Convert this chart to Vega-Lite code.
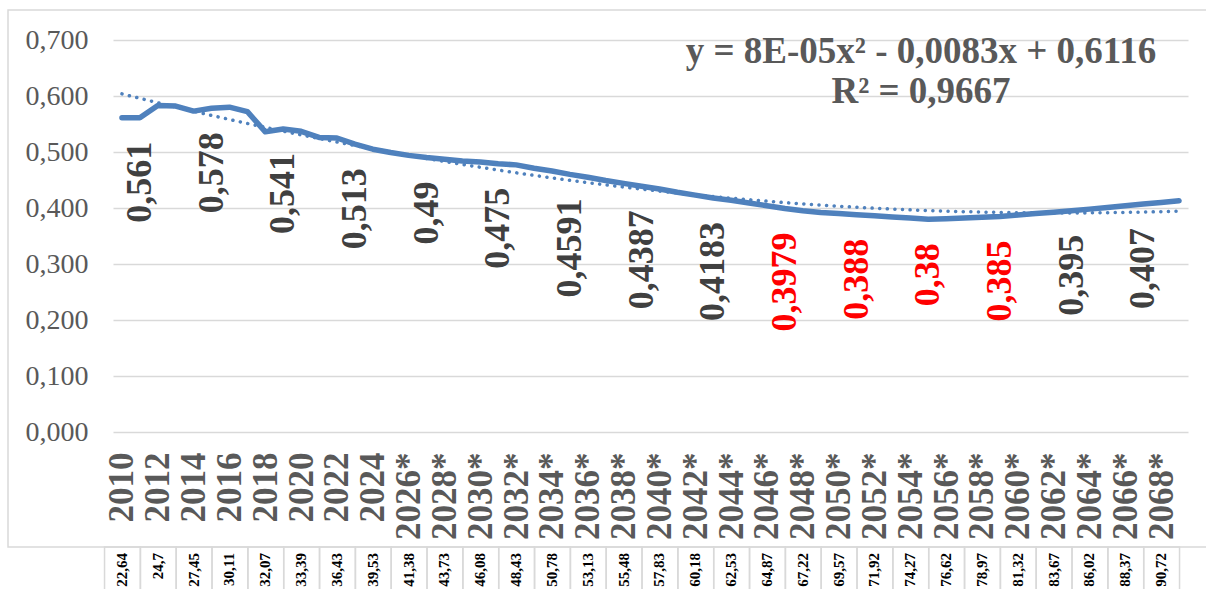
{
  "$schema": "https://vega.github.io/schema/vega-lite/v6.json",
  "width": 1075,
  "height": 392,
  "autosize": {"type": "none"},
  "padding": {"left": 113, "top": 40, "right": 18, "bottom": 157},
  "background": "white",
  "config": {"view": {"stroke": null}, "font": "Liberation Serif"},
  "datasets": {
    "main": [
      {"year": 2010, "v": 0.561},
      {"year": 2011, "v": 0.561, "lbl": "0,561"},
      {"year": 2012, "v": 0.583},
      {"year": 2013, "v": 0.582},
      {"year": 2014, "v": 0.573},
      {"year": 2015, "v": 0.578, "lbl": "0,578"},
      {"year": 2016, "v": 0.580},
      {"year": 2017, "v": 0.572},
      {"year": 2018, "v": 0.536},
      {"year": 2019, "v": 0.541, "lbl": "0,541"},
      {"year": 2020, "v": 0.537},
      {"year": 2021, "v": 0.526},
      {"year": 2022, "v": 0.525},
      {"year": 2023, "v": 0.514, "lbl": "0,513"},
      {"year": 2024, "v": 0.505},
      {"year": 2025, "v": 0.499},
      {"year": 2026, "v": 0.494},
      {"year": 2027, "v": 0.490, "lbl": "0,49"},
      {"year": 2028, "v": 0.487},
      {"year": 2029, "v": 0.484},
      {"year": 2030, "v": 0.482},
      {"year": 2031, "v": 0.479, "lbl": "0,475"},
      {"year": 2032, "v": 0.477},
      {"year": 2033, "v": 0.471},
      {"year": 2034, "v": 0.466},
      {"year": 2035, "v": 0.460, "lbl": "0,4591"},
      {"year": 2036, "v": 0.455},
      {"year": 2037, "v": 0.449},
      {"year": 2038, "v": 0.444},
      {"year": 2039, "v": 0.439, "lbl": "0,4387"},
      {"year": 2040, "v": 0.434},
      {"year": 2041, "v": 0.428},
      {"year": 2042, "v": 0.423},
      {"year": 2043, "v": 0.418, "lbl": "0,4183"},
      {"year": 2044, "v": 0.414},
      {"year": 2045, "v": 0.409},
      {"year": 2046, "v": 0.404},
      {"year": 2047, "v": 0.399, "lbl": "0,3979"},
      {"year": 2048, "v": 0.395},
      {"year": 2049, "v": 0.392},
      {"year": 2050, "v": 0.390},
      {"year": 2051, "v": 0.388, "lbl": "0,388"},
      {"year": 2052, "v": 0.386},
      {"year": 2053, "v": 0.384},
      {"year": 2054, "v": 0.382},
      {"year": 2055, "v": 0.380, "lbl": "0,38"},
      {"year": 2056, "v": 0.381},
      {"year": 2057, "v": 0.382},
      {"year": 2058, "v": 0.3835},
      {"year": 2059, "v": 0.385, "lbl": "0,385"},
      {"year": 2060, "v": 0.3875},
      {"year": 2061, "v": 0.390},
      {"year": 2062, "v": 0.3925},
      {"year": 2063, "v": 0.395, "lbl": "0,395"},
      {"year": 2064, "v": 0.398},
      {"year": 2065, "v": 0.401},
      {"year": 2066, "v": 0.404},
      {"year": 2067, "v": 0.407, "lbl": "0,407"},
      {"year": 2068, "v": 0.410},
      {"year": 2069, "v": 0.413}
    ],
    "tbl": [
      {"year": 2010, "t": "22,64"}, {"year": 2012, "t": "24,7"}, {"year": 2014, "t": "27,45"},
      {"year": 2016, "t": "30,11"}, {"year": 2018, "t": "32,07"}, {"year": 2020, "t": "33,39"},
      {"year": 2022, "t": "36,43"}, {"year": 2024, "t": "39,53"}, {"year": 2026, "t": "41,38"},
      {"year": 2028, "t": "43,73"}, {"year": 2030, "t": "46,08"}, {"year": 2032, "t": "48,43"},
      {"year": 2034, "t": "50,78"}, {"year": 2036, "t": "53,13"}, {"year": 2038, "t": "55,48"},
      {"year": 2040, "t": "57,83"}, {"year": 2042, "t": "60,18"}, {"year": 2044, "t": "62,53"},
      {"year": 2046, "t": "64,87"}, {"year": 2048, "t": "67,22"}, {"year": 2050, "t": "69,57"},
      {"year": 2052, "t": "71,92"}, {"year": 2054, "t": "74,27"}, {"year": 2056, "t": "76,62"},
      {"year": 2058, "t": "78,97"}, {"year": 2060, "t": "81,32"}, {"year": 2062, "t": "83,67"},
      {"year": 2064, "t": "86,02"}, {"year": 2066, "t": "88,37"}, {"year": 2068, "t": "90,72"}
    ]
  },
  "layer": [
    {
      "data": {"name": "main"},
      "mark": {"type": "line", "color": "#4F81BD", "strokeWidth": 5.5, "strokeCap": "round", "strokeJoin": "round"},
      "encoding": {
        "x": {
          "field": "year", "type": "quantitative",
          "scale": {"domain": [2009.5, 2069.5], "nice": false, "zero": false},
          "axis": {
            "values": [2010, 2012, 2014, 2016, 2018, 2020, 2022, 2024, 2026, 2028, 2030, 2032, 2034, 2036, 2038, 2040, 2042, 2044, 2046, 2048, 2050, 2052, 2054, 2056, 2058, 2060, 2062, 2064, 2066, 2068],
            "labelExpr": "datum.value >= 2026 ? datum.value + '*' : '' + datum.value",
            "labelAngle": 270,
            "labelFont": "Liberation Serif",
            "labelFontSize": 35,
            "labelFontWeight": "bold",
            "labelColor": "#595959",
            "labelPadding": 20,
            "labelOverlap": false,
            "labelFlush": false,
            "labelBound": false,
            "ticks": false,
            "domain": false,
            "grid": false,
            "title": null
          }
        },
        "y": {
          "field": "v", "type": "quantitative",
          "scale": {"domain": [0, 0.7], "nice": false, "zero": true},
          "axis": {
            "values": [0, 0.1, 0.2, 0.3, 0.4, 0.5, 0.6, 0.7],
            "labelExpr": "replace(format(datum.value, '.3f'), '.', ',')",
            "labelFont": "Liberation Serif",
            "labelFontSize": 28,
            "labelColor": "#595959",
            "labelPadding": 25,
            "ticks": false,
            "domain": false,
            "grid": true,
            "gridColor": "#d9d9d9",
            "gridWidth": 1.3,
            "title": null
          }
        }
      }
    },
    {
      "data": {"name": "main"},
      "transform": [{"regression": "v", "on": "year", "method": "poly", "order": 2}],
      "mark": {"type": "line", "color": "#4F81BD", "strokeWidth": 3.5, "strokeDash": [0.1, 7.5], "strokeCap": "round"},
      "encoding": {
        "x": {"field": "year", "type": "quantitative"},
        "y": {"field": "v", "type": "quantitative"}
      }
    },
    {
      "data": {"values": [{}]},
      "mark": {"type": "rect", "fill": null, "stroke": "#d9d9d9", "strokeWidth": 1.5},
      "encoding": {
        "x": {"datum": 2003.64, "type": "quantitative"},
        "x2": {"datum": 2075},
        "y": {"datum": 0.7536, "type": "quantitative"},
        "y2": {"datum": -0.2054}
      }
    },
    {
      "data": {"name": "tbl"},
      "mark": {"type": "rect", "fill": null, "stroke": "#d9d9d9", "strokeWidth": 1.5, "binSpacing": 0, "yOffset": 115, "y2Offset": 180},
      "encoding": {
        "x": {"field": "year", "type": "quantitative", "bin": {"anchor": 2009, "step": 2, "extent": [2009, 2071]}},
        "y": {"datum": 0, "type": "quantitative"},
        "y2": {"datum": 0}
      }
    },
    {
      "data": {"name": "tbl"},
      "mark": {"type": "text", "angle": 270, "align": "right", "baseline": "middle", "font": "Liberation Serif", "fontSize": 15, "fontWeight": "bold", "color": "#000000", "yOffset": 121},
      "encoding": {
        "x": {"field": "year", "type": "quantitative"},
        "y": {"datum": 0, "type": "quantitative"},
        "text": {"field": "t"}
      }
    },
    {
      "data": {"name": "main"},
      "transform": [{"filter": "isValid(datum.lbl)"}],
      "mark": {"type": "text", "angle": 270, "align": "right", "baseline": "middle", "font": "Liberation Serif", "fontSize": 36, "fontWeight": "bold", "yOffset": 24},
      "encoding": {
        "x": {"field": "year", "type": "quantitative"},
        "y": {"field": "v", "type": "quantitative"},
        "text": {"field": "lbl"},
        "color": {
          "condition": {"test": "datum.year >= 2047 && datum.year <= 2059", "value": "#FF0000"},
          "value": "#404040"
        }
      }
    },
    {
      "data": {"values": [{}]},
      "mark": {
        "type": "text",
        "text": ["y = 8E-05x² - 0,0083x + 0,6116", "R² = 0,9667"],
        "align": "center", "baseline": "top", "lineHeight": 40,
        "font": "Liberation Serif", "fontSize": 37, "fontWeight": "bold", "color": "#595959"
      },
      "encoding": {
        "x": {"datum": 2054.6, "type": "quantitative"},
        "y": {"datum": 0.7107, "type": "quantitative"}
      }
    }
  ]
}
